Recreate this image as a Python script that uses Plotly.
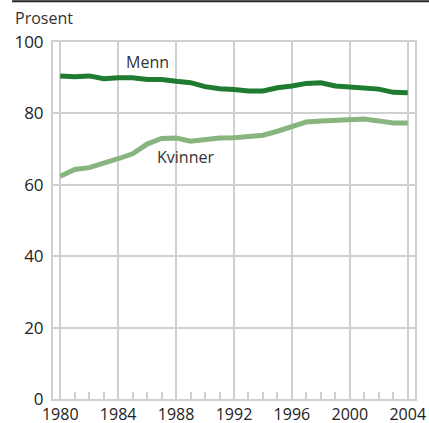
import plotly.graph_objects as go

years = list(range(1980, 2005))
menn = [90.5, 90.3, 90.5, 89.7, 90.0, 90.0, 89.5, 89.5, 89.0, 88.6, 87.5, 86.9, 86.7,
        86.3, 86.3, 87.2, 87.7, 88.4, 88.6, 87.7, 87.4, 87.2, 86.8, 85.9, 85.8]
kvinner = [62.4, 64.3, 64.8, 65.9, 67.3, 68.7, 71.4, 73.0, 73.1, 72.2, 72.8, 73.1, 73.2,
           73.5, 73.9, 75.0, 76.4, 77.6, 77.9, 78.0, 78.1, 78.4, 77.9, 77.3, 77.3]
x_ticks = [1980, 1984, 1988, 1992, 1996, 2000, 2004]
y_ticks = [0, 20, 40, 60, 80, 100]

GRID = "#d0d0d2"
FONT = "Open Sans"

fig = go.Figure()
fig.add_trace(go.Scatter(x=years, y=menn, mode="lines", name="Menn",
                         line=dict(color="#1e7b30", width=5), showlegend=False))
fig.add_trace(go.Scatter(x=years, y=kvinner, mode="lines", name="Kvinner",
                         line=dict(color="#88b47e", width=5), showlegend=False))

fig.update_layout(
    width=429, height=423,
    margin=dict(l=53, r=14, t=42, b=24, autoexpand=False),
    plot_bgcolor="white", paper_bgcolor="white",
    font=dict(family=FONT, size=16, color="#222222"),
    xaxis=dict(range=[1979.5, 2004.5], tickvals=x_ticks, ticktext=[str(v) for v in x_ticks],
               showgrid=True, gridcolor=GRID, gridwidth=2,
               showline=True, linecolor=GRID, linewidth=2, mirror=True,
               ticks="inside", ticklen=7, tickcolor=GRID, tickwidth=2,
               zeroline=False, automargin=False,
               minor=dict(ticks="inside", tickmode="linear", tick0=1980, dtick=1, ticklen=7,
                          tickcolor=GRID, tickwidth=2, showgrid=False),
               tickfont=dict(size=16)),
    yaxis=dict(range=[0, 100], tickvals=y_ticks, showgrid=True, gridcolor=GRID, gridwidth=2,
               showline=True, linecolor=GRID, linewidth=2, mirror=True, automargin=False,
               ticks="", zeroline=False, tickfont=dict(size=17), ticklabelstandoff=4),
    annotations=[
        dict(x=1986.0, y=94.3, xref="x", yref="y", text="Menn", showarrow=False,
             font=dict(size=16, color="#333333")),
        dict(x=1988.65, y=67.7, xref="x", yref="y", text="Kvinner", showarrow=False,
             font=dict(size=16, color="#333333")),
        dict(x=-0.11, y=1.066, xref="paper", yref="paper", text="Prosent", showarrow=False,
             xanchor="left", yanchor="middle", font=dict(size=16, color="#333333")),
    ],
    shapes=[
        dict(type="line", xref="paper", yref="paper", x0=-0.113, x1=1.04, y0=1.114, y1=1.114,
             line=dict(color="#222222", width=2)),
    ],
)

fig.write_html("out.html", config={"displayModeBar": False},
               post_script="document.body.style.margin='0';document.body.style.padding='0';")
